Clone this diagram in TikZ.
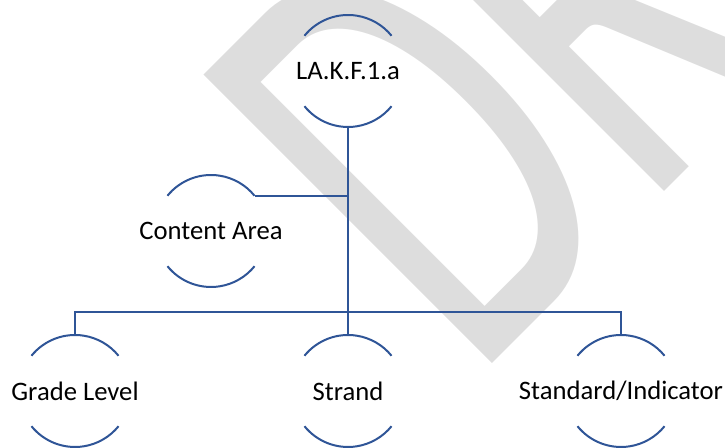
\documentclass[tikz,border=0pt]{standalone}
\usepackage{fontspec}
\setmainfont{Carlito}
\definecolor{chartblue}{RGB}{47,85,151}
\definecolor{wmgray}{RGB}{221,221,221}
\newcommand{\nowidth}[1]{\makebox[0pt]{#1}}

\begin{document}
\begin{tikzpicture}[x=0.75pt,y=0.75pt,
  level/.style={circle, minimum size=84pt, inner sep=0pt, outer sep=0pt,
    font=\fontsize{20}{24}\selectfont},
  rim/.style={draw=chartblue, line width=1.5pt},
  link/.style={draw=chartblue, line width=1.5pt}]
\def\xTop{348}
\def\yTop{377}
\def\yRow{57}
\def\yBar{136}
\clip (0,0) rectangle (725,448);

% watermark
\node[anchor=base west, rotate=45, inner sep=0pt, text=wmgray,
  font=\fontsize{477}{477}\selectfont] (wm) at (473,65)
  {\scalebox{0.62}[1]{DRAFT}};

\node[level] (code) at (\xTop,\yTop) {\nowidth{LA.K.F.1.a}};
\node[level] (area) at (211,217) {\nowidth{Content Area}};
\node[level] (grade) at (75,\yRow) {\nowidth{Grade Level}};
\node[level] (strand) at (\xTop,\yRow) {\nowidth{Strand}};
\node[level] (std) at (621,\yRow) {\nowidth{Standard/Indicator}};

\foreach \n in {code,area,grade,strand,std} {
  \draw[rim] (\n.141) arc[start angle=141, end angle=39, radius=42pt];
  \draw[rim] (\n.219) arc[start angle=219, end angle=321, radius=42pt];
}

\coordinate (bar) at (\xTop,\yBar);
\draw[link] (code.south) -- (strand.north);
\draw[link] (area.39) -- (area.39 -| code.south);
\draw[link] (grade.north) |- (bar) -| (std.north);

\end{tikzpicture}
\end{document}
